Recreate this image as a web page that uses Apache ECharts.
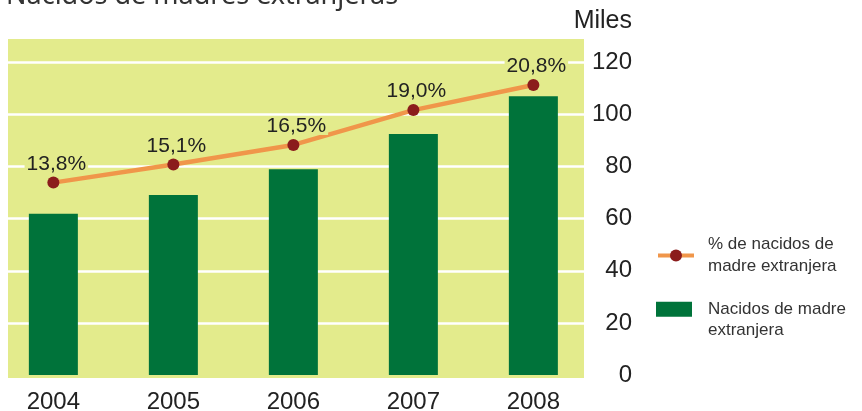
<!DOCTYPE html>
<html>
<head>
<meta charset="utf-8">
<script src="https://cdn.jsdelivr.net/npm/echarts@6/dist/echarts.min.js"></script>
<style>
  html, body { margin: 0; padding: 0; background: #fff; }
  #chart { width: 862px; height: 411px; }
</style>
</head>
<body>
<div id="chart"></div>
<script>
// datos
const years = [2004, 2005, 2006, 2007, 2008]
const nacidosMiles = [61.9, 69.1, 79.0, 92.5, 107.0]
const porcentaje = [13.8, 15.1, 16.5, 19.0, 20.8]
const yTicks = [0, 20, 40, 60, 80, 100, 120]

const FONT = '"Liberation Sans", Arial, sans-serif'
const BG = '#e3eb8c'

const chart = echarts.init(document.getElementById('chart'))

const fmtPct = (v) => v.toFixed(1).replace('.', ',') + '%'

chart.setOption({
  animation: false,
  title: [
    {
      text: 'Nacidos de madres extranjeras',
      left: 6,
      top: -17,
      padding: 0,
      textStyle: { fontFamily: '"Noto Sans", sans-serif', fontSize: 27, fontWeight: 'normal', color: '#333' }
    },
    {
      text: 'Miles',
      right: 230,
      top: 9,
      padding: 0,
      textStyle: { fontFamily: FONT, fontSize: 25, fontWeight: 'normal', color: '#222' }
    }
  ],
  legend: [
    {
      orient: 'vertical',
      left: 656,
      top: 234,
      padding: 0,
      itemWidth: 36,
      itemHeight: 15,
      lineStyle: { width: 4 },
      data: ['% de nacidos de madre extranjera'],
      formatter: () => '% de nacidos de\nmadre extranjera',
      textStyle: { fontFamily: FONT, fontSize: 17, lineHeight: 21.5, color: '#333', padding: [0, 0, 0, 9] }
    },
    {
      orient: 'vertical',
      left: 656,
      top: 277,
      padding: 0,
      itemWidth: 36,
      itemHeight: 15,
      data: [{ name: 'Nacidos de madre extranjera', icon: 'rect' }],
      formatter: () => '\nNacidos de madre\nextranjera',
      textStyle: { fontFamily: FONT, fontSize: 17, lineHeight: 21.5, color: '#333', padding: [0, 0, 0, 11] }
    }
  ],
  grid: [
    // fondo del area de trazado
    { left: 8, top: 39, width: 576, height: 339, show: true, backgroundColor: BG, borderWidth: 0, outerBoundsMode: 'none' },
    // area de datos
    { left: 8, top: 39, width: 576, height: 336, outerBoundsMode: 'none' }
  ],
  xAxis: [
    { gridIndex: 0, type: 'value', show: false },
    {
      gridIndex: 1,
      type: 'value',
      min: 2003.622,
      max: 2008.422,
      axisLine: { show: false },
      axisTick: { show: false },
      splitLine: { show: false },
      axisLabel: {
        customValues: years,
        margin: 15,
        fontFamily: FONT,
        fontSize: 24,
        color: '#222',
        formatter: (v) => (years.includes(v) ? String(v) : '')
      }
    }
  ],
  yAxis: [
    { gridIndex: 0, type: 'value', show: false },
    {
      gridIndex: 1,
      type: 'value',
      position: 'right',
      min: 0,
      max: 129,
      interval: 20,
      axisLine: { show: false },
      axisTick: { show: false },
      splitLine: { showMinLine: false, showMaxLine: false, lineStyle: { color: '#fff', width: 2.5 } },
      axisLabel: {
        showMaxLabel: false,
        align: 'right',
        margin: 48,
        fontFamily: FONT,
        fontSize: 24,
        color: '#222',
        formatter: (v) => (yTicks.includes(v) ? String(v) : '')
      }
    },
    { gridIndex: 1, type: 'value', min: 0, max: 24.1, show: false, splitLine: { show: false } }
  ],
  series: [
    {
      name: 'Nacidos de madre extranjera',
      type: 'bar',
      xAxisIndex: 1,
      yAxisIndex: 1,
      data: years.map((y, i) => [y, nacidosMiles[i]]),
      barWidth: 49,
      itemStyle: { color: '#00733a' },
      z: 2
    },
    {
      name: '% de nacidos de madre extranjera',
      type: 'line',
      xAxisIndex: 1,
      yAxisIndex: 2,
      data: years.map((y, i) => [y, porcentaje[i]]),
      symbol: 'circle',
      symbolSize: 12,
      lineStyle: { color: '#f0964a', width: 4.5 },
      itemStyle: { color: '#8b1c1c' },
      label: {
        show: true,
        position: 'top',
        distance: 4,
        offset: [3, 0],
        padding: [0, 2, 0, 2],
        lineHeight: 17,
        backgroundColor: BG,
        fontFamily: FONT,
        fontSize: 21,
        color: '#222',
        formatter: (p) => fmtPct(p.value[1])
      },
      z: 3
    }
  ]
})
</script>
</body>
</html>
